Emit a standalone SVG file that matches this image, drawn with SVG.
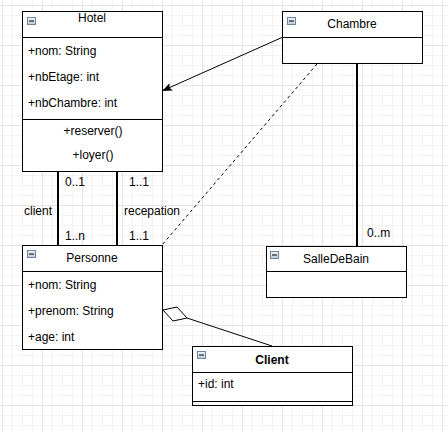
<svg xmlns="http://www.w3.org/2000/svg" width="448" height="432" viewBox="0 0 448 432">
  <defs>
    <pattern id="grid" x="2" y="5" width="40" height="40" patternUnits="userSpaceOnUse">
      <path d="M10.5 0V40M20.5 0V40M30.5 0V40M0 10.5H40M0 20.5H40M0 30.5H40" stroke="#f3f3f3" stroke-width="1" fill="none"/>
      <path d="M0.5 0V40M0 0.5H40" stroke="#e4e4e4" stroke-width="1" fill="none"/>
    </pattern>
    <linearGradient id="iconFill" x1="0" y1="0" x2="0" y2="1">
      <stop offset="0" stop-color="#f4f7fb"/>
      <stop offset="1" stop-color="#b9c8da"/>
    </linearGradient>
    <marker id="arrow" viewBox="0 0 10 8" refX="9" refY="4" markerWidth="10" markerHeight="8" markerUnits="userSpaceOnUse" orient="auto">
      <path d="M0 0L10 4L0 8L2 4Z" fill="#000"/>
    </marker>
    <g id="toggle">
      <rect x="0.5" y="0.5" width="8" height="7" fill="url(#iconFill)" stroke="#6f86a0" stroke-width="1"/>
      <path d="M2 4H7" stroke="#000" stroke-width="1"/>
    </g>
  </defs>
  <style>
    text { font-family: "Liberation Sans", Helvetica, Arial, sans-serif; font-size: 12px; fill: #000; }
    .box { fill: #fff; stroke: #000; stroke-width: 1; }
    .sep { stroke: #000; stroke-width: 1; fill: none; }
    .mid { text-anchor: middle; }
    .bold { font-weight: bold; }
    .assoc { stroke: #000; stroke-width: 2; fill: none; }
    .thin { stroke: #000; stroke-width: 1; fill: none; }
  </style>

  <rect width="448" height="432" fill="#fff"/>
  <rect width="448" height="432" fill="url(#grid)"/>

  <!-- connectors -->
  <g id="connectors">
    <line class="thin" x1="283" y1="37" x2="163" y2="90.5" marker-end="url(#arrow)"/>
    <line class="thin" x1="317" y1="64" x2="162" y2="245" stroke-dasharray="3 3"/>
    <line class="assoc" x1="58" y1="171" x2="58" y2="245"/>
    <line class="assoc" x1="117" y1="171" x2="117" y2="245"/>
    <line class="assoc" x1="357" y1="63" x2="357" y2="246"/>
    <line class="thin" x1="187" y1="318" x2="272" y2="346"/>
    <polygon points="163,310 177,307 187,318 173,321" fill="#fff" stroke="#000" stroke-width="1"/>
    <text x="65" y="186">0..1</text>
    <text x="24" y="215">client</text>
    <text x="65" y="240">1..n</text>
    <text x="129" y="186">1..1</text>
    <text x="124" y="215">recepation</text>
    <text x="129" y="240">1..1</text>
    <text x="367" y="237">0..m</text>
  </g>

  <!-- Hotel -->
  <g id="hotel">
    <rect class="box" x="22.5" y="11.5" width="140" height="160"/>
    <path class="sep" d="M22 37.5H163M22 119.5H163"/>
    <use href="#toggle" x="27" y="17"/>
    <text class="mid" x="92" y="22">Hotel</text>
    <text x="28" y="55">+nom: String</text>
    <text x="28" y="81">+nbEtage: int</text>
    <text x="28" y="107">+nbChambre: int</text>
    <text class="mid" x="93" y="135">+reserver()</text>
    <text class="mid" x="93" y="159">+loyer()</text>
  </g>

  <!-- Chambre -->
  <g id="chambre">
    <rect class="box" x="282.5" y="11.5" width="140" height="52"/>
    <path class="sep" d="M282 37.5H423"/>
    <use href="#toggle" x="287" y="17"/>
    <text class="mid" x="352" y="28">Chambre</text>
  </g>

  <!-- Personne -->
  <g id="personne">
    <rect class="box" x="22.5" y="245.5" width="140" height="104"/>
    <path class="sep" d="M22 271.5H163"/>
    <use href="#toggle" x="27" y="250"/>
    <text class="mid" x="92" y="262">Personne</text>
    <text x="28" y="289">+nom: String</text>
    <text x="28" y="315">+prenom: String</text>
    <text x="28" y="341">+age: int</text>
  </g>

  <!-- SalleDeBain -->
  <g id="salledebain">
    <rect class="box" x="266.5" y="246.5" width="140" height="51"/>
    <path class="sep" d="M266 271.5H407"/>
    <use href="#toggle" x="270" y="251"/>
    <text class="mid" x="336" y="263">SalleDeBain</text>
  </g>

  <!-- Client -->
  <g id="client">
    <rect class="box" x="192.5" y="346.5" width="160" height="59"/>
    <path class="sep" d="M192 372.5H353M192 401.5H353"/>
    <use href="#toggle" x="197" y="351"/>
    <text class="mid bold" x="272" y="364">Client</text>
    <text x="198" y="388">+id: int</text>
  </g>
</svg>
